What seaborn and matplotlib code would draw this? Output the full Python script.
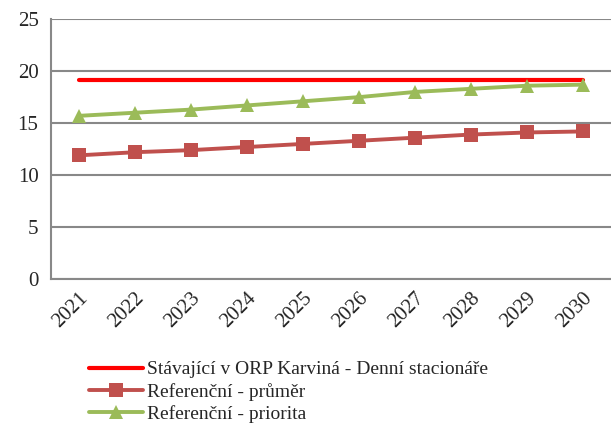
import numpy as np
import pandas as pd
import matplotlib
matplotlib.use("Agg")
import matplotlib.pyplot as plt
import seaborn as sns

# data
roky = ["2021", "2022", "2023", "2024", "2025", "2026", "2027", "2028", "2029", "2030"]
stavajici = [19.1] * 10
prumer = [11.9, 12.2, 12.4, 12.7, 13.0, 13.3, 13.6, 13.9, 14.1, 14.2]
priorita = [15.7, 16.0, 16.3, 16.7, 17.1, 17.5, 18.0, 18.3, 18.6, 18.7]

nazvy = ["Stávající v ORP Karviná - Denní stacionáře",
         "Referenční - průměr",
         "Referenční - priorita"]

df = pd.DataFrame({
    "x": list(range(len(roky))) * 3,
    "hodnota": stavajici + prumer + priorita,
    "rada": [nazvy[0]] * 10 + [nazvy[1]] * 10 + [nazvy[2]] * 10,
})

sns.set_style("white")
plt.rcParams["font.family"] = ["Liberation Serif", "DejaVu Serif"]

fig = plt.figure(figsize=(6.11, 4.26), dpi=100)
ax = fig.add_axes([0.0835, 0.345, 0.9165, 0.61])

barvy = {nazvy[0]: "#FF0000", nazvy[1]: "#C0504D", nazvy[2]: "#9BBB59"}
znacky = {nazvy[0]: "", nazvy[1]: "s", nazvy[2]: "^"}
sirky = {nazvy[0]: 3.0, nazvy[1]: 2.8, nazvy[2]: 2.8}

for nazev in nazvy:
    sns.lineplot(data=df[df["rada"] == nazev], x="x", y="hodnota", ax=ax,
                 color=barvy[nazev], marker=znacky[nazev] or None,
                 markersize=9.5, markeredgewidth=0, linewidth=sirky[nazev],
                 label=nazev)

ax.set_xlim(-0.5, len(roky) - 0.5)
ax.set_ylim(0, 25)
ax.set_yticks(np.arange(0, 26, 5))
ax.set_xticks(range(len(roky)))
ax.set_xticklabels(roky, rotation=45, ha="right", rotation_mode="anchor")
ax.set_xticks(np.arange(-0.5, len(roky), 1), minor=True)
ax.tick_params(axis="x", which="major", length=0, pad=7, labelsize=15)
ax.tick_params(axis="x", which="minor", length=5, width=1.5, color="#888888", direction="out")
ax.tick_params(axis="y", length=5, width=1.5, color="#888888", direction="out", labelsize=15, pad=4)

ax.set_xlabel("")
ax.set_ylabel("")
ax.grid(axis="y", color="#888888", linewidth=1.5)
ax.set_axisbelow(True)
for s in ["top", "right"]:
    ax.spines[s].set_visible(False)
for s in ["left", "bottom"]:
    ax.spines[s].set_color("#888888")
    ax.spines[s].set_linewidth(1.5)

ax.legend(loc="upper left", bbox_to_anchor=(0.068, -0.315), frameon=False,
          fontsize=14, handlelength=2.75, handletextpad=0.25, labelspacing=0.22,
          borderaxespad=0, borderpad=0)

fig.savefig("out.png", dpi=100)
